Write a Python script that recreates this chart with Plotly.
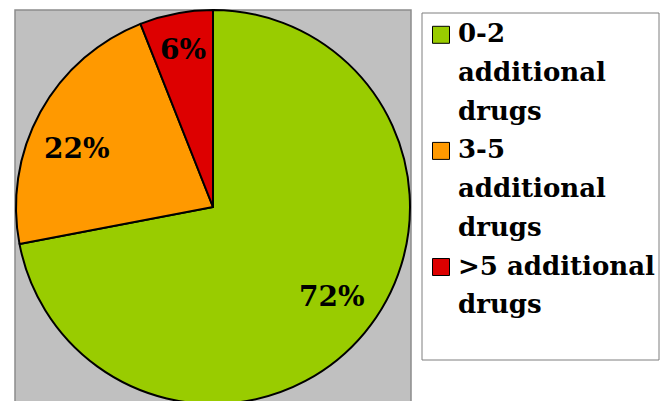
import math
import textwrap
import plotly.graph_objects as go

# Share of patients by number of additional drugs
categories = ["0-2 additional drugs", "3-5 additional drugs", ">5 additional drugs"]
values = [72, 22, 6]
colors = ["#99cc00", "#ff9900", "#dd0000"]

W, H = 671, 410
FONT = "DejaVu Serif"

# pie geometry in pixels
CX, CY, R = 213, 207, 197
LABEL_R = 0.76                               # label distance as a fraction of the radius
LABEL_NUDGE = [(4, -6), (-5, 14), (-2, -10)]  # small pixel tweaks per label


def fx(px):
    return px / W


def fy(py):
    return 1 - py / H


fig = go.Figure()

fig.add_trace(go.Pie(
    labels=categories,
    values=values,
    sort=False,
    direction="clockwise",
    rotation=0,
    marker=dict(colors=colors, line=dict(color="black", width=2)),
    textinfo="none",
    domain=dict(x=[fx(CX - R), fx(CX + R)], y=[fy(CY + R), fy(CY - R)]),
    showlegend=False,
    hoverinfo="label+percent",
))

shapes = [
    # grey plot area
    dict(type="rect", xref="paper", yref="paper", layer="below",
         x0=fx(15), x1=fx(411), y0=fy(420), y1=fy(10),
         fillcolor="#c0c0c0", line=dict(color="#8c8c8c", width=1.5)),
    # legend frame
    dict(type="rect", xref="paper", yref="paper", layer="below",
         x0=fx(422), x1=fx(659), y0=fy(360), y1=fy(13),
         fillcolor="white", line=dict(color="#7f7f7f", width=1)),
]
annotations = []

# percentage labels placed at each slice's mid angle
total = sum(values)
cum = 0
for v, (dx, dy) in zip(values, LABEL_NUDGE):
    mid = (cum + v / 2) / total * 2 * math.pi
    cum += v
    px = CX + LABEL_R * R * math.sin(mid) + dx
    py = CY - LABEL_R * R * math.cos(mid) + dy
    annotations.append(dict(
        xref="paper", yref="paper", x=fx(px), y=fy(py),
        xanchor="center", yanchor="middle", showarrow=False,
        text=f"{v / total * 100:.0f}%",
        font=dict(family=FONT, size=28, color="black", weight="bold"),
    ))

# legend entries: colour key plus wrapped label
line_pitch = 38.7
baseline = 43.3
for name, color in zip(categories, colors):
    lines = textwrap.wrap(name, 13, break_on_hyphens=False)
    key_cy = baseline - 8.5
    shapes.append(dict(type="rect", xref="paper", yref="paper",
                       x0=fx(432.5), x1=fx(449.5), y0=fy(key_cy + 8.5), y1=fy(key_cy - 8.5),
                       fillcolor=color, line=dict(color="black", width=1)))
    for ln in lines:
        annotations.append(dict(
            xref="paper", yref="paper", x=fx(456), y=fy(baseline - 10),
            xanchor="left", yanchor="middle", text=ln, showarrow=False,
            font=dict(family=FONT, size=26, color="black", weight="bold"),
        ))
        baseline += line_pitch

fig.update_layout(
    width=W, height=H,
    margin=dict(l=0, r=0, t=0, b=0),
    paper_bgcolor="white",
    plot_bgcolor="white",
    shapes=shapes,
    annotations=annotations,
)

fig.write_html(
    "out.html",
    post_script="document.body.style.margin='0';document.body.style.overflow='hidden';",
)
